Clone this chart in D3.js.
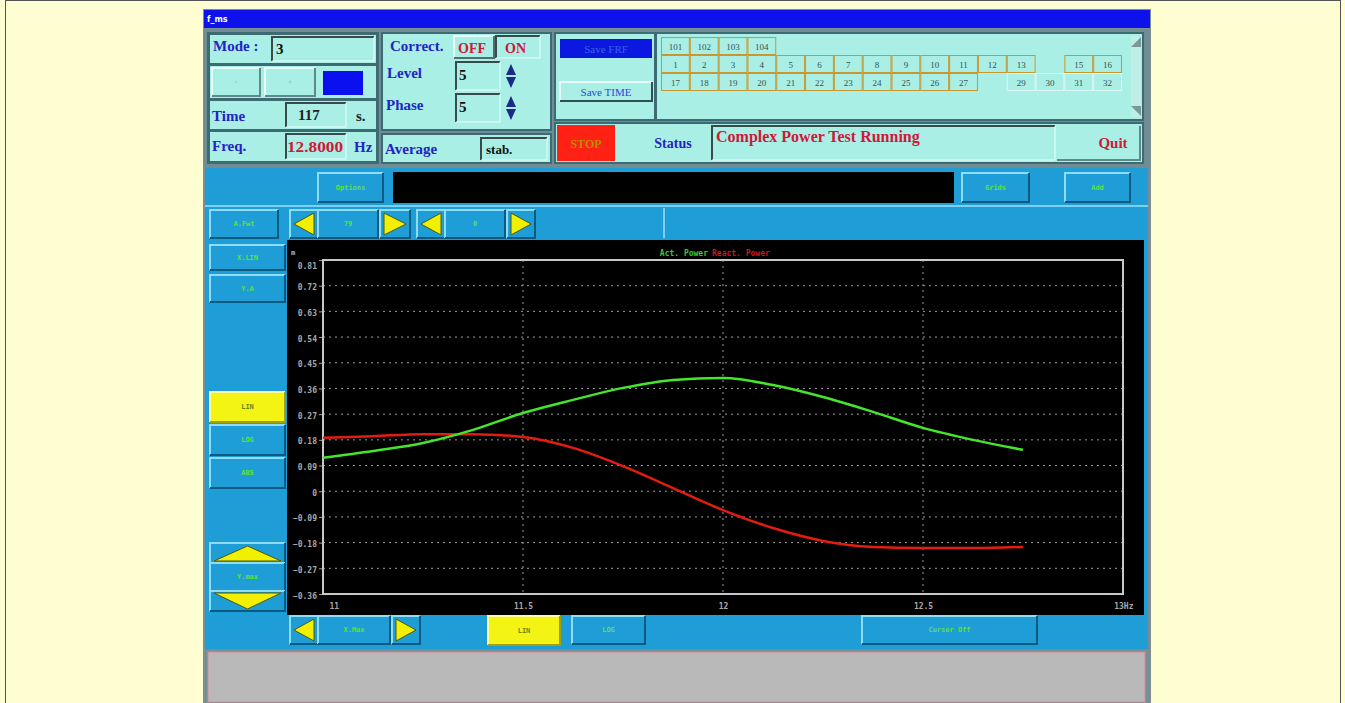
<!DOCTYPE html>
<html>
<head>
<meta charset="utf-8">
<script src="https://cdn.jsdelivr.net/npm/d3@7"></script>
<style>
  html, body { margin: 0; padding: 0; background: #fffdd2; }
  svg { display: block; }
</style>
</head>
<body>
<svg id="screen" width="1345" height="703"></svg>
<script>
// ---- data ----
const freqs = [11, 11.125, 11.25, 11.375, 11.5, 11.625, 11.75, 11.875, 12, 12.125, 12.25, 12.375, 12.5, 12.625, 12.75];
const activePower = [0.117, 0.141, 0.169, 0.215, 0.274, 0.320, 0.362, 0.390, 0.397, 0.372, 0.330, 0.278, 0.222, 0.180, 0.145];
const reactivePower = [0.187, 0.193, 0.200, 0.200, 0.190, 0.152, 0.088, 0.011, -0.066, -0.129, -0.174, -0.195, -0.199, -0.199, -0.195];
const yTicks = [0.81, 0.72, 0.63, 0.54, 0.45, 0.36, 0.27, 0.18, 0.09, 0, -0.09, -0.18, -0.27, -0.36];
const xTicks = [11, 11.5, 12, 12.5, 13];
const xTickLabels = ["11", "11.5", "12", "12.5", "13Hz"];
const seriesNames = ["Act. Power", "React. Power"];
const groupRow = ["101", "102", "103", "104"];
const channelRow1 = ["1","2","3","4","5","6","7","8","9","10","11","12","13","","15","16"];
const channelRow2 = ["17","18","19","20","21","22","23","24","25","26","27","","29","30","31","32"];

const svg = d3.select("#screen");

const CYAN = "#a9efe6", DARK = "#3d6b74", BLUE = "#1e9dd7", TXT = "#2424c4", RED = "#d01838";
const GREENTXT = "#5ee23a";

// page frame
svg.append("rect").attr("x", 5.5).attr("y", 0.5).attr("width", 1335).attr("height", 710)
  .attr("fill", "none").attr("stroke", "#555").attr("stroke-width", 1);

// window
svg.append("rect").attr("x", 203).attr("y", 9).attr("width", 948).attr("height", 700).attr("fill", "#7b8e94");
svg.append("rect").attr("x", 204).attr("y", 10).attr("width", 946).attr("height", 18).attr("fill", "#0d12ec");
svg.append("text").attr("x", 207).attr("y", 22).attr("fill", "#fff").style("font", "bold 8px 'DejaVu Sans'").text("f_ms");

function box(x, y, w, h, fill, stroke) {
  return svg.append("rect").attr("x", x).attr("y", y).attr("width", w).attr("height", h)
    .attr("fill", fill).attr("stroke", stroke || "none").attr("stroke-width", stroke ? 1 : 0);
}
// sunken field: dark top/left edge
function field(x, y, w, h, fill) {
  box(x, y, w, h, fill || CYAN);
  svg.append("path").attr("d", `M${x},${y + h}V${y}H${x + w}`).attr("fill", "none").attr("stroke", "#3a4a4a").attr("stroke-width", 2);
  svg.append("path").attr("d", `M${x + w},${y}V${y + h}H${x}`).attr("fill", "none").attr("stroke", "#e8fffb").attr("stroke-width", 1);
}
// raised button
function raised(x, y, w, h, fill, light, dark) {
  box(x, y, w, h, fill);
  svg.append("path").attr("d", `M${x},${y + h}V${y}H${x + w}`).attr("fill", "none").attr("stroke", light).attr("stroke-width", 2);
  svg.append("path").attr("d", `M${x + w},${y}V${y + h}H${x}`).attr("fill", "none").attr("stroke", dark).attr("stroke-width", 2);
}
function label(x, y, s, color, size, anchor) {
  return svg.append("text").attr("x", x).attr("y", y).attr("fill", color || TXT)
    .attr("text-anchor", anchor || "start")
    .style("font", `bold ${size || 15}px 'Liberation Serif', serif`).text(s);
}
function tiny(x, y, s, color) {
  return svg.append("text").attr("x", x).attr("y", y).attr("fill", color || GREENTXT)
    .attr("text-anchor", "middle").attr("dy", "0.35em")
    .style("font", "bold 7px 'DejaVu Sans Mono', monospace").text(s);
}

// ---- top control panel ----
box(204, 29, 946, 139, "#6f8d93");

// left block
box(207, 32, 172, 132, DARK);
box(210, 35, 166, 28, CYAN);
label(213, 51, "Mode :");
field(272, 37, 102, 24);
label(276, 54, "3", "#111");
box(210, 66, 166, 32, CYAN);
raised(212, 68, 48, 28, CYAN, "#e9fffb", "#5d8a8a");
raised(265, 68, 50, 28, CYAN, "#e9fffb", "#5d8a8a");
tiny(236, 82, "-", "#a0c8c8"); tiny(290, 82, "+", "#a0c8c8");
box(320, 69, 52, 28, CYAN);
box(323, 71, 40, 24, "#0b10ee");
box(210, 101, 166, 28, CYAN);
label(212, 121, "Time");
field(286, 103, 60, 24);
label(298, 120, "117", "#222");
label(356, 121, "s.", "#222");
box(210, 132, 166, 29, CYAN);
label(212, 151, "Freq.");
field(286, 134, 60, 25);
label(287, 152, "12.8000", RED, 14).attr("textLength", 56).attr("lengthAdjust", "spacingAndGlyphs");
label(354, 152, "Hz");

// middle block
box(381, 32, 171, 99, DARK);
box(383, 34, 167, 95, CYAN);
label(390, 51, "Correct.");
raised(454, 36, 40, 22, CYAN, "#e9fffb", "#4f6e6e");
label(458, 53, "OFF", RED, 14);
field(496, 36, 44, 22);
label(505, 53, "ON", RED, 14);
label(387, 78, "Level");
field(456, 62, 44, 28);
label(459, 80, "5", "#111");
label(386, 110, "Phase");
field(456, 94, 44, 28);
label(459, 112, "5", "#111");
[64, 96].forEach(y0 => {
  svg.append("path").attr("d", `M511,${y0}L506,${y0 + 11}H516Z`).attr("fill", "#1b2b8a");
  svg.append("path").attr("d", `M506,${y0 + 13}H516L511,${y0 + 24}Z`).attr("fill", "#1b2b8a");
});
box(381, 133, 171, 31, DARK);
box(383, 135, 167, 27, CYAN);
label(385, 154, "Average");
field(481, 138, 66, 22);
label(486, 154, "stab.", "#111", 13);

// channel block
box(554, 32, 590, 89, DARK);
box(556, 34, 586, 85, CYAN);
box(560, 39, 92, 19, "#0c18e0");
label(606, 53, "Save FRF", "#3a62e0", 11, "middle").style("font-weight", "normal");
raised(560, 82, 92, 19, CYAN, "#e9fffb", "#2d5050");
label(606, 96, "Save TIME", "#2a4ad8", 11, "middle").style("font-weight", "normal");
box(654, 34, 3, 85, DARK);

const cellX = d3.scaleBand().domain(d3.range(16)).range([661, 1122]).padding(0);
function cellRow(labels, y, borderFor) {
  labels.forEach((s, i) => {
    if (s === "") return;
    box(cellX(i) + 0.5, y + 0.5, cellX.bandwidth() - 1, 17, CYAN, borderFor(i));
    label(cellX(i) + cellX.bandwidth() / 2, y + 13, s, "#3a5050", 9, "middle").style("font-weight", "normal");
  });
}
cellRow(groupRow, 37, () => "#c8982e");
cellRow(channelRow1, 55, () => "#c8982e");
cellRow(channelRow2, 73, i => i < 11 ? "#c8982e" : "#ddf6f2");
// scrollbar
box(1131, 36, 10, 81, "#bfeee8");
svg.append("path").attr("d", "M1131,47L1141,37V47Z").attr("fill", "#7a9898");
svg.append("path").attr("d", "M1131,106H1141L1141,116Z").attr("fill", "#7a9898");

// status block
box(554, 122, 590, 42, DARK);
box(556, 124, 586, 38, CYAN);
box(557, 125, 58, 36, "#ff2214");
label(586, 148, "STOP", "#c08a00", 12, "middle");
label(673, 148, "Status", TXT, 14, "middle");
field(712, 126, 343, 34);
label(716, 142, "Complex Power Test Running", RED, 16);
box(1057, 126, 83, 34, CYAN);
svg.append("path").attr("d", "M1057,160H1140V126").attr("fill", "none").attr("stroke", "#5d8a8a").attr("stroke-width", 2);
label(1113, 148, "Quit", RED, 15, "middle");

// ---- blue graph area ----
box(205, 168, 943, 481, BLUE);
function btn(x, y, w, h, text, fill) {
  raised(x, y, w, h, fill || BLUE, fill ? "#fffca0" : "#8fdcf6", fill ? "#a0a000" : "#0c5a80");
  tiny(x + w / 2, y + h / 2, text, fill ? "#6a8a10" : GREENTXT);
}
function arrowBtn(x, y, w, h, dir) {
  raised(x, y, w, h, BLUE, "#8fdcf6", "#0c5a80");
  const cx = x + w / 2, cy = y + h / 2;
  let d;
  if (dir === "left") d = `M${x + 4},${cy}L${x + w - 4},${y + 3}V${y + h - 3}Z`;
  if (dir === "right") d = `M${x + w - 4},${cy}L${x + 4},${y + 3}V${y + h - 3}Z`;
  if (dir === "up") d = `M${cx},${y + 3}L${x + w - 4},${y + h - 2}H${x + 4}Z`;
  if (dir === "down") d = `M${cx},${y + h - 2}L${x + w - 4},${y + 2}H${x + 4}Z`;
  svg.append("path").attr("d", d).attr("fill", "#f2f000").attr("stroke", "#4a5a10").attr("stroke-width", 1);
}

// row 1
btn(318, 173, 65, 29, "Options");
box(393, 172, 561, 31, "#000");
btn(962, 173, 67, 29, "Grids");
btn(1065, 173, 65, 29, "Add");
box(205, 205, 943, 2, "#7fd0f0");
// row 2
btn(210, 210, 68, 28, "A.Fwt");
arrowBtn(290, 210, 28, 28, "left");
btn(318, 210, 60, 28, "79");
arrowBtn(380, 210, 30, 28, "right");
arrowBtn(417, 210, 28, 28, "left");
btn(445, 210, 60, 28, "0");
arrowBtn(507, 210, 28, 28, "right");
box(663, 208, 2, 30, "#7fd0f0");
// left column
btn(210, 245, 75, 25, "X.LIN");
btn(210, 275, 75, 27, "Y.A");
btn(210, 392, 75, 30, "LIN", "#f4f414");
btn(210, 425, 75, 30, "LOG");
btn(210, 458, 75, 30, "ABS");
arrowBtn(210, 543, 75, 20, "up");
btn(210, 563, 75, 28, "Y.max");
arrowBtn(210, 591, 75, 20, "down");
// bottom row
arrowBtn(290, 616, 28, 28, "left");
btn(318, 616, 72, 28, "X.Max");
arrowBtn(392, 616, 28, 28, "right");
btn(488, 616, 72, 29, "LIN", "#f4f414");
btn(572, 616, 73, 28, "LOG");
btn(862, 616, 175, 28, "Cursor Off");

// ---- chart ----
box(287, 240, 857, 375, "#000");
const x = d3.scaleLinear().domain([11, 13]).range([323, 1123]);
const y = d3.scaleLinear().domain([-0.36, 0.81]).range([594, 260]);

const g = svg.append("g");
g.append("g").selectAll("line").data(yTicks.slice(1, -1)).join("line")
  .attr("x1", x(11)).attr("x2", x(13)).attr("y1", d => y(d)).attr("y2", d => y(d))
  .attr("stroke", "#9a9a9a").attr("stroke-width", 1).attr("stroke-dasharray", "2,4");
g.append("g").selectAll("line").data(xTicks.slice(1, -1)).join("line")
  .attr("y1", y(0.81)).attr("y2", y(-0.36)).attr("x1", d => x(d)).attr("x2", d => x(d))
  .attr("stroke", "#9a9a9a").attr("stroke-width", 1).attr("stroke-dasharray", "2,4");

// y axis labels + small ticks
const yAxis = d3.axisLeft(y).tickValues(yTicks).tickSize(4).tickPadding(2)
  .tickFormat(d => d === 0 ? "0" : d3.format(".2f")(d));
const ya = g.append("g").attr("transform", `translate(${x(11)},0)`).call(yAxis);
ya.select(".domain").remove();
ya.selectAll("line").attr("stroke", "#a0a0a0");
ya.selectAll("text").attr("fill", "#a8a8a8").style("font", "bold 8px 'DejaVu Sans Mono', monospace")
  .attr("dy", (d, i) => i === 0 ? "1.1em" : "0.5em");

const xAxis = d3.axisBottom(x).tickValues(xTicks).tickSize(0).tickPadding(9)
  .tickFormat((d, i) => xTickLabels[i]);
const xa = g.append("g").attr("transform", `translate(0,${y(-0.36)})`).call(xAxis);
xa.select(".domain").remove();
xa.selectAll("text").attr("fill", "#a8a8a8").style("font", "bold 8px 'DejaVu Sans Mono', monospace")
  .attr("text-anchor", (d, i) => i === 0 ? "start" : i === xTicks.length - 1 ? "end" : "middle")
  .attr("dx", (d, i) => i === 0 ? 6 : i === xTicks.length - 1 ? 10 : 0);

g.append("rect").attr("x", x(11)).attr("y", y(0.81)).attr("width", x(13) - x(11)).attr("height", y(-0.36) - y(0.81))
  .attr("fill", "none").attr("stroke", "#c8c8c8").attr("stroke-width", 2);
g.append("text").attr("x", 291).attr("y", 255).attr("fill", "#b8b8b8").style("font", "bold 7px 'DejaVu Sans Mono', monospace").text("m");

// legend
g.append("text").attr("x", 708).attr("y", 256).attr("text-anchor", "end").attr("fill", "#3ac83a")
  .style("font", "bold 8px 'DejaVu Sans Mono', monospace").text(seriesNames[0]);
g.append("text").attr("x", 712).attr("y", 256).attr("fill", "#c81818")
  .style("font", "bold 8px 'DejaVu Sans Mono', monospace").text(seriesNames[1]);

const line = vals => d3.line().x((d, i) => x(freqs[i])).y(d => y(d)).curve(d3.curveMonotoneX)(vals);
g.append("path").attr("d", line(reactivePower)).attr("fill", "none").attr("stroke", "#e41c10").attr("stroke-width", 2.5);
g.append("path").attr("d", line(activePower)).attr("fill", "none").attr("stroke", "#44e62c").attr("stroke-width", 2.5);

// ---- bottom message panel ----
box(205, 649, 943, 60, "#7b8e94");
box(208, 652, 937, 50, "#b9b9b9", "#d8879a");
</script>
</body>
</html>
